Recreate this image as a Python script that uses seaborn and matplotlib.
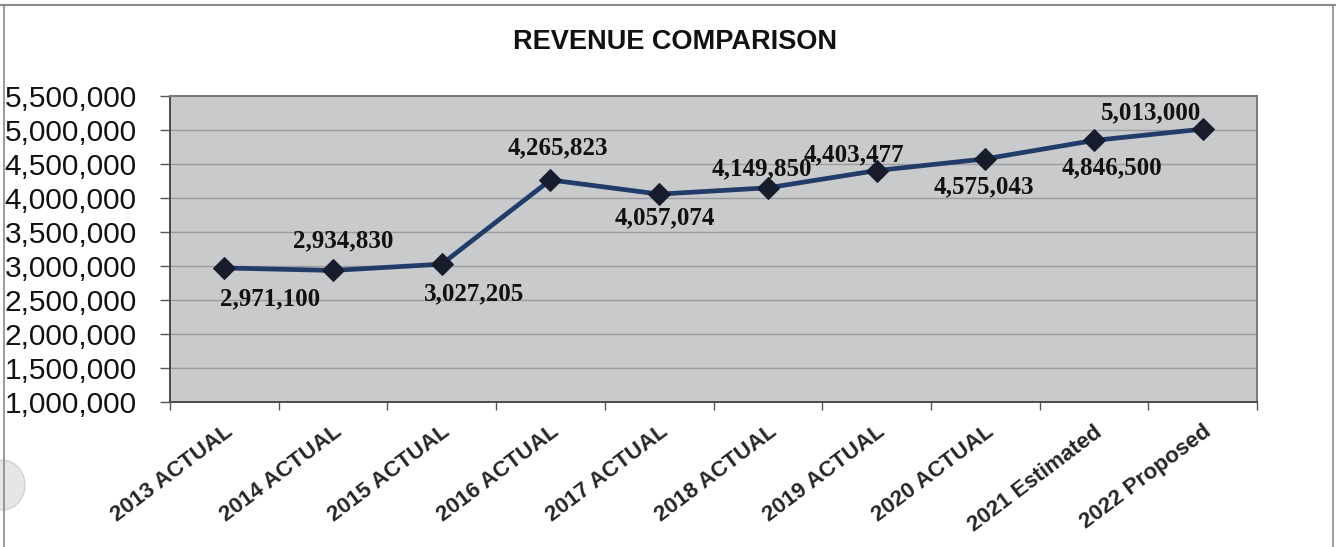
import matplotlib
matplotlib.use("Agg")
import matplotlib.pyplot as plt
import matplotlib.patches as mpatches
from matplotlib.ticker import FuncFormatter, FixedLocator
import seaborn as sns
import pandas as pd

# Revenue by fiscal year
categories = ["2013 ACTUAL", "2014 ACTUAL", "2015 ACTUAL", "2016 ACTUAL", "2017 ACTUAL",
              "2018 ACTUAL", "2019 ACTUAL", "2020 ACTUAL", "2021 Estimated", "2022 Proposed"]
revenue = [2971100, 2934830, 3027205, 4265823, 4057074,
           4149850, 4403477, 4575043, 4846500, 5013000]
y_ticks = [1000000, 1500000, 2000000, 2500000, 3000000, 3500000,
           4000000, 4500000, 5000000, 5500000]
# label offsets in points (dx, dy) relative to each marker
label_offsets = [(33, -22), (7, 21), (23, -21), (5, 23), (4, -17),
                 (-4, 14), (-16, 11), (-1, -20), (13, -20), (-37, 12)]

sns.set_theme(style="white")
plt.rcParams["font.family"] = ["Liberation Sans", "DejaVu Sans"]

df = pd.DataFrame({"year": categories, "revenue": revenue})

fig = plt.figure(figsize=(13.36, 5.47), dpi=100)
ax = fig.add_axes([170 / 1336, 1 - 402 / 547, (1257 - 170) / 1336, (402 - 96) / 547])
ax.set_facecolor("#c9cacc")

sns.lineplot(data=df, x="year", y="revenue", sort=False, ax=ax,
             color="#223c6a", linewidth=3.4, marker="D", markersize=11.5,
             markerfacecolor="#171d2c", markeredgecolor="#171d2c", zorder=3)

ax.set_xlim(-0.5, len(categories) - 0.5)
ax.set_ylim(y_ticks[0], y_ticks[-1])
ax.set_yticks(y_ticks)
ax.yaxis.set_major_formatter(FuncFormatter(lambda v, p: f"{int(v):,}"))
ax.grid(axis="y", color="#9b9c9e", linewidth=1.0)
ax.grid(axis="x", visible=False)
ax.set_axisbelow(True)

ax.set_xticks(range(len(categories)))
ax.set_xticklabels(categories, rotation=37, ha="right", va="top",
                   rotation_mode="anchor", fontsize=16, fontweight="bold")
ax.tick_params(axis="x", which="major", length=0, pad=14)
ax.xaxis.set_minor_locator(FixedLocator([i - 0.5 for i in range(len(categories) + 1)]))
ax.tick_params(axis="x", which="minor", length=6, width=1, color="#555555", direction="out", bottom=True)
ax.tick_params(axis="y", length=7, width=1, color="#555555", direction="out", left=True,
               labelsize=21.5, pad=17)
for lab in ax.get_yticklabels():
    lab.set_color("#111111")

for side in ["left", "bottom"]:
    ax.spines[side].set_color("#4a4a4a")
    ax.spines[side].set_linewidth(1.4)
for side in ["top", "right"]:
    ax.spines[side].set_color("#7a7a7a")
    ax.spines[side].set_linewidth(1.4)

ax.set_xlabel("")
ax.set_ylabel("")

for i, (v, (dx, dy)) in enumerate(zip(revenue, label_offsets)):
    ax.annotate(f"{v:,}", (i, v), xytext=(dx, dy), textcoords="offset points",
                ha="center", va="center", fontsize=18, fontweight="bold",
                family=["Liberation Serif", "DejaVu Serif"], color="#111111", zorder=4)

fig.text(675 / 1336, 1 - 42 / 547, "REVENUE COMPARISON", ha="center", va="center",
         fontsize=19.5, fontweight="bold", color="#111111")

# page frame and punch hole
fig.add_artist(plt.Line2D([0, 1], [1 - 5 / 547, 1 - 5 / 547], transform=fig.transFigure,
                          color="#8a8a8a", linewidth=1.5))
fig.add_artist(plt.Line2D([4 / 1336, 4 / 1336], [0, 1 - 5 / 547], transform=fig.transFigure,
                          color="#8a8a8a", linewidth=1.2))
fig.add_artist(plt.Line2D([1333 / 1336, 1333 / 1336], [0, 1 - 5 / 547], transform=fig.transFigure,
                          color="#8a8a8a", linewidth=1.2))
fig.add_artist(mpatches.Ellipse((2 / 1336, 1 - 485 / 547), 46 / 1336, 50 / 547,
                                transform=fig.transFigure, facecolor="#e6e6e6",
                                edgecolor="#d2d2d2", linewidth=1))

fig.savefig("out.png", dpi=100)
